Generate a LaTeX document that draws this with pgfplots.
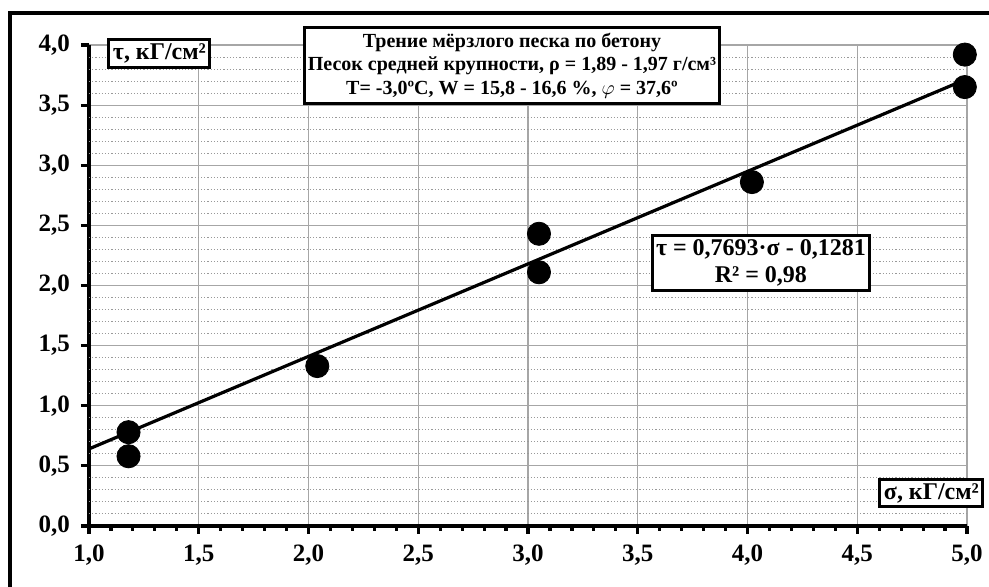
\documentclass[border=0pt]{standalone}
\usepackage{fontspec}
\setmainfont{Liberation Serif}
\usepackage{pgfplots}
\pgfplotsset{compat=1.18}

\begin{document}
\begin{tikzpicture}
\begin{axis}[
    x=109.75pt, y=60.125pt,
    xmin=1, xmax=5, ymin=0, ymax=4,
    axis x line=bottom, axis y line=left,
    axis line style={line width=1.6pt, -},
    xtick distance=0.5, ytick distance=0.5,
    minor x tick num=4,
    tick align=outside,
    major tick length=4pt, minor tick length=2.5pt,
    tick style={black, line width=1.6pt},
    xmajorgrids, ymajorgrids,
    major grid style={gray!70, line width=0.6pt},
    extra y ticks={0.1,0.2,0.3,0.4,0.6,0.7,0.8,0.9,1.1,1.2,1.3,1.4,1.6,1.7,1.8,1.9,2.1,2.2,2.3,2.4,2.6,2.7,2.8,2.9,3.1,3.2,3.3,3.4,3.6,3.7,3.8,3.9},
    extra y tick labels={},
    extra y tick style={major tick length=0pt, grid=major,
        major grid style={gray!80, densely dotted, line width=0.5pt}},
    ticklabel style={font=\fontsize{12.5}{14}\selectfont\bfseries},
    xticklabel style={yshift=-2pt},
    yticklabel style={xshift=-2pt},
    /pgf/number format/.cd, use comma, fixed, fixed zerofill, precision=1, assume math mode=true,
    /pgfplots/.cd,
    clip=false,
]
\coordinate (O) at (axis cs:1,0);
\addplot[black, line width=1.6pt] coordinates {(1,0.641) (5,3.718)};
\addplot[only marks, mark=*, mark size=5.8pt, black] coordinates {
    (1.18,0.78) (1.18,0.58) (2.04,1.33) (3.05,2.43) (3.05,2.11)
    (4.02,2.86) (4.99,3.92) (4.99,3.65)};
\node[draw, line width=1.5pt, fill=white, inner sep=2pt, font=\fontsize{12}{13}\selectfont\bfseries]
    at (axis cs:1.321,3.929) {τ, кГ/см²};
\node[draw, line width=1.5pt, fill=white, inner sep=2pt, font=\fontsize{12}{13}\selectfont\bfseries]
    at (axis cs:4.838,0.274) {σ, кГ/см²};
\node[draw, line width=1.5pt, fill=white, inner xsep=1.5pt, inner ysep=2.5pt, align=center,
    font=\fontsize{10}{11.8}\selectfont\bfseries]
    at (axis cs:2.927,3.83) {Трение мёрзлого песка по бетону\\
    Песок средней крупности, ρ = 1,89 - 1,97 г/см³\\
    Т= -3,0ºC, W = 15,8 - 16,6 \%, $\varphi$ = 37,6º};
\node[draw, line width=1.5pt, fill=white, inner xsep=2pt, inner ysep=2pt, align=center,
    font=\fontsize{12}{13.5}\selectfont\bfseries]
    at (axis cs:4.061,2.187) {τ = 0,7693·σ - 0,1281\\ R² = 0,98};
\end{axis}
\draw[line width=2pt] (O) ++(-39.5pt,-60pt) -- ++(0,316.5pt) -- ++(520pt,0);
\pgfresetboundingbox
\path[use as bounding box] (O) ++(-44.5pt,-30.5pt) rectangle ++(494.5pt,293.5pt);
\end{tikzpicture}
\end{document}
